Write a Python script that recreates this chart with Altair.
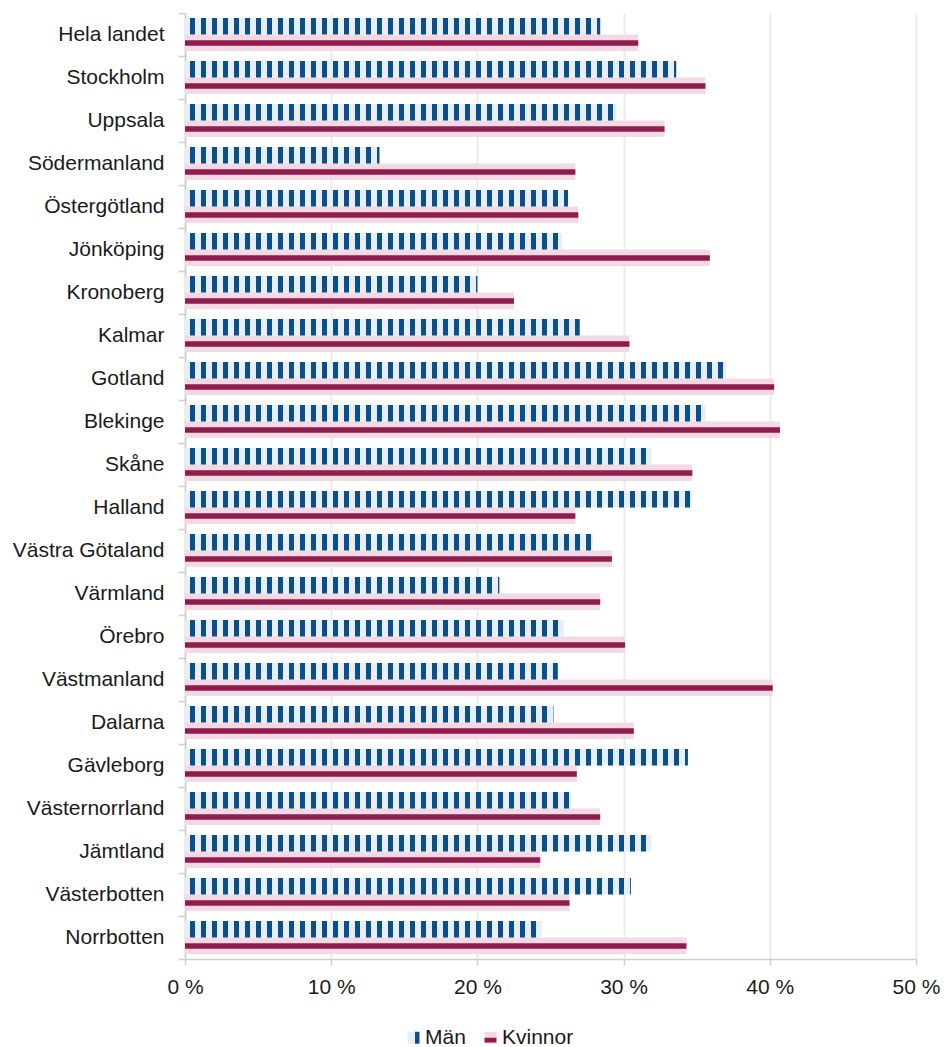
import altair as alt
import pandas as pd

regions = ["Hela landet", "Stockholm", "Uppsala", "Södermanland", "Östergötland",
           "Jönköping", "Kronoberg", "Kalmar", "Gotland", "Blekinge", "Skåne",
           "Halland", "Västra Götaland", "Värmland", "Örebro", "Västmanland",
           "Dalarna", "Gävleborg", "Västernorrland", "Jämtland", "Västerbotten",
           "Norrbotten"]
man = [28.4, 33.6, 29.5, 13.3, 26.2, 25.8, 20.0, 27.0, 37.0, 35.6, 31.9,
       34.7, 27.9, 21.5, 25.9, 25.5, 25.2, 34.4, 26.4, 31.9, 30.5, 24.4]
kvinnor = [31.0, 35.6, 32.8, 26.7, 26.9, 35.9, 22.5, 30.4, 40.3, 40.7, 34.7,
           26.7, 29.2, 28.4, 30.1, 40.2, 30.7, 26.8, 28.4, 24.3, 26.3, 34.3]
series = ["Män", "Kvinnor"]
x_ticks = [0, 10, 20, 30, 40, 50]

rows = []
for r, m, k in zip(regions, man, kvinnor):
    rows.append({"region": r, "series": "Män", "value": m})
    rows.append({"region": r, "series": "Kvinnor", "value": k})
df = pd.DataFrame(rows)

FONT = "Liberation Sans"
BLUE = "#0B4F8A"
LIGHTBLUE = "#E8EEF6"
RED = "#8F1C4C"
PINK = "#F2D9E3"

y_scale = alt.Scale(domain=regions, paddingInner=0, paddingOuter=0)
y_axis = alt.Axis(title=None, tickBand="extent", tickSize=7, tickColor="#CFCFCF",
                  domainColor="#CFCFCF", domainWidth=1.5, tickWidth=1.5,
                  labelFont=FONT, labelFontSize=21, labelColor="#1a1a1a",
                  labelPadding=14, grid=False)
y_enc = alt.Y("region:N", scale=y_scale, axis=y_axis)
yoff = alt.YOffset("series:N", scale=alt.Scale(domain=series, paddingInner=0, paddingOuter=0.3))
x_enc = alt.X("value:Q", scale=alt.Scale(domain=[0, 50]),
              axis=alt.Axis(title=None, values=x_ticks, labelExpr="datum.value + ' %'",
                            grid=True, gridColor="#EBEBEB", gridWidth=2,
                            domainColor="#CFCFCF", domainWidth=1.5, tickColor="#CFCFCF",
                            tickWidth=1.5, tickSize=6, labelFont=FONT, labelFontSize=21,
                            labelColor="#1a1a1a", labelPadding=11, labelFlush=False))

base = alt.Chart(df)

bg = base.mark_bar().encode(
    x=x_enc, y=y_enc, yOffset=yoff,
    color=alt.Color("series:N", scale=alt.Scale(domain=series, range=[LIGHTBLUE, PINK]), legend=None),
)

stripes = base.transform_filter("datum.series == 'Män'").transform_calculate(
    zero="0"
).mark_rule(
    color=BLUE, strokeWidth=16.5, strokeDash=[5, 6], strokeDashOffset=6, strokeCap="butt"
).encode(x=alt.X("zero:Q"), x2=alt.X2("value:Q"),
         y=alt.Y("region:N", scale=y_scale, axis=y_axis, bandPosition=0.308))

redband = base.transform_filter("datum.series == 'Kvinnor'").transform_calculate(
    zero="0"
).mark_rule(
    color=RED, strokeWidth=5.5, strokeCap="butt"
).encode(x=alt.X("zero:Q"), x2=alt.X2("value:Q"),
         y=alt.Y("region:N", scale=y_scale, axis=y_axis, bandPosition=0.70))

light_paths = ["M-1,-1H0.25V1H-1Z", "M-1,-1H1V0H-1Z M-1,0.8H1V1H-1Z"]
dark_paths = ["M0.25,-1H1V1H0.25Z", "M-1,0H1V0.8H-1Z"]

leg_common = dict(orient="none", legendX=218, legendY=1014, direction="horizontal",
                  title=None, labelFont=FONT, labelFontSize=21, labelColor="#1a1a1a",
                  symbolSize=144, labelOffset=1, columnPadding=14, padding=0,
                  symbolStrokeWidth=0)

leg_light = base.transform_filter("false").mark_point(filled=True, opacity=1).encode(
    x=x_enc, y=y_enc,
    color=alt.Color("series:N", scale=alt.Scale(domain=series, range=[LIGHTBLUE, PINK]),
                    legend=alt.Legend(**leg_common)),
    shape=alt.Shape("series:N", scale=alt.Scale(domain=series, range=light_paths),
                    legend=alt.Legend(**leg_common)),
)
leg_dark = base.transform_filter("false").mark_point(filled=True, opacity=1).encode(
    x=x_enc, y=y_enc,
    color=alt.Color("series:N", scale=alt.Scale(domain=series, range=[BLUE, RED]),
                    legend=alt.Legend(labelOpacity=0, **leg_common)),
    shape=alt.Shape("series:N", scale=alt.Scale(domain=series, range=dark_paths),
                    legend=alt.Legend(labelOpacity=0, **leg_common)),
)

chart = alt.layer(bg, stripes, redband, leg_light, leg_dark).resolve_scale(
    color="independent", shape="independent"
).resolve_legend(color="independent", shape="independent").properties(
    width=731, height=946,
    autosize=alt.AutoSizeParams(type="none"),
    padding={"left": 177, "top": 5, "right": 25, "bottom": 88},
).configure_view(strokeWidth=0)

chart.save("out.html", embed_options={"renderer": "svg", "actions": False})
